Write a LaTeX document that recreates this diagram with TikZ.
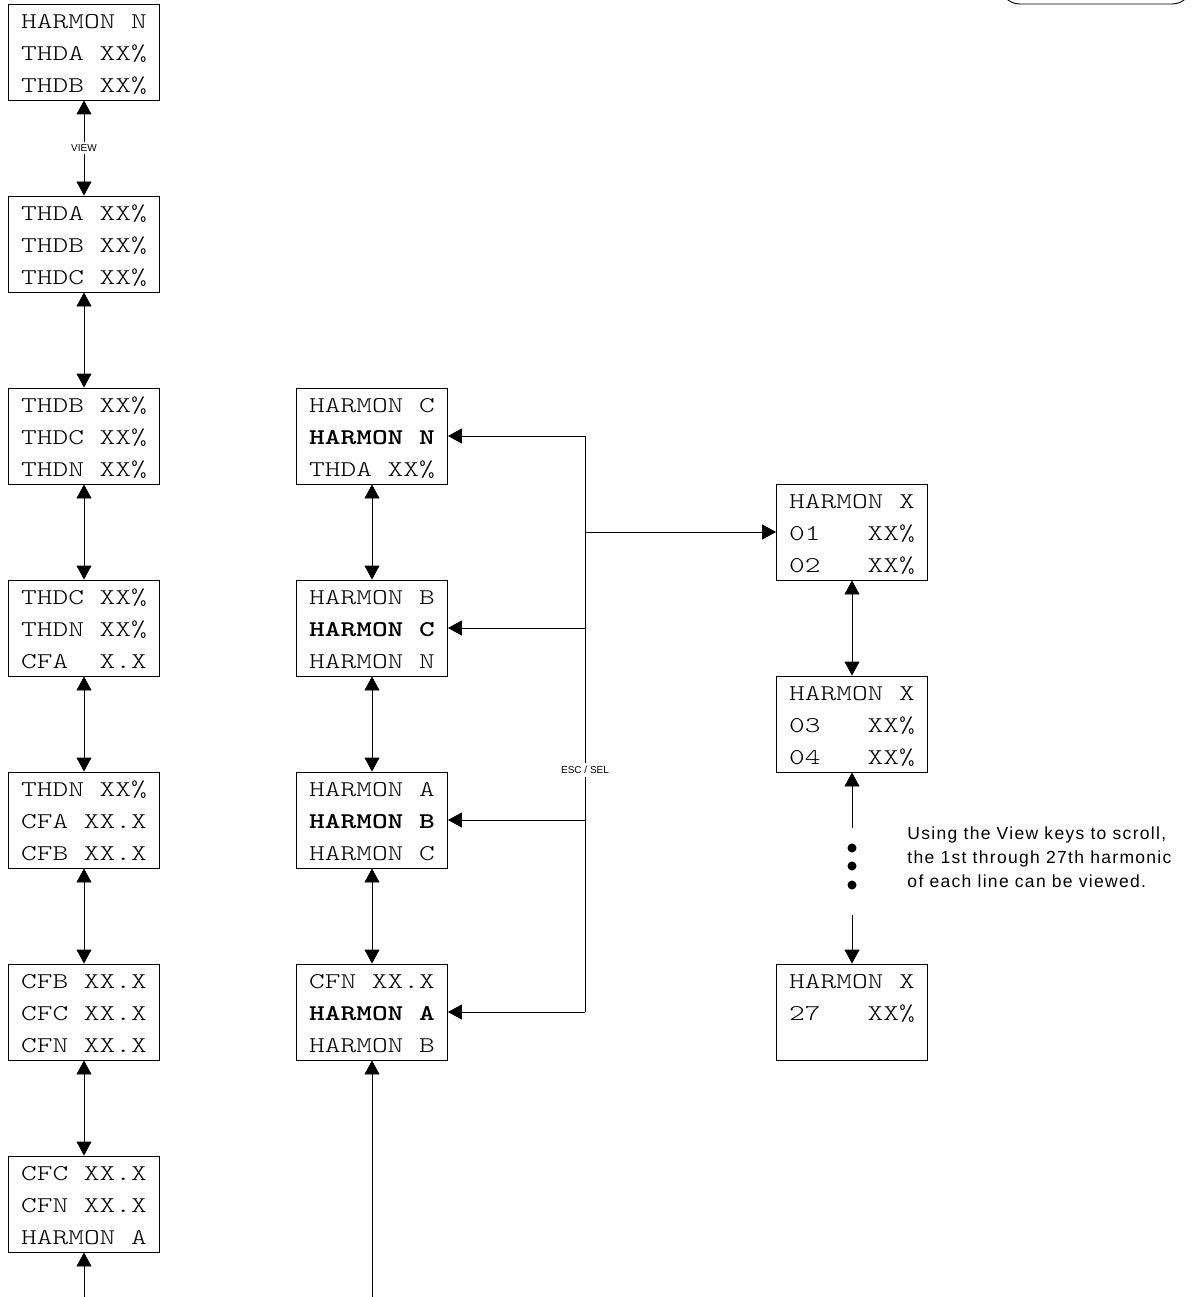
\documentclass[tikz,border=0pt]{standalone}
\usepackage{fontspec}
\setmainfont{Liberation Sans}
\newfontfamily\lcdfont{lmmonolt10-regular.otf}[FakeStretch=1.33, BoldFont=lmmonolt10-bold.otf]
\newfontfamily\notefont{Liberation Sans}[LetterSpace=7.5]
\usetikzlibrary{arrows.meta,positioning,calc}

\tikzset{
  screen/.style={draw, minimum width=151pt, minimum height=96pt, inner sep=0pt,
    align=left, font=\lcdfont\fontsize{22.5}{32}\selectfont},
  keylabel/.style={fill=white, inner sep=3pt, font=\fontsize{10}{12}\selectfont},
  >={Triangle[length=14pt,width=15pt]}
}
\newcommand{\rows}[3]{\rule{0pt}{24.4pt}#1\\#2\\\rule[-7.6pt]{0pt}{7.6pt}#3}

\begin{document}
\begin{tikzpicture}[x=1pt, y=-1pt, line width=0.9pt]
    \useasboundingbox (0,0) rectangle (1194,1297);

    % Corner of the box above (cut by the page)
    \begin{scope}
        \clip (0,0) rectangle (1194,1297);
        \draw[rounded corners=20pt] (1000,-60) rectangle (1192,4);
    \end{scope}

    % Left column: view list
    \node[screen] (l1) at (84,52)   {\rows{HARMON N}{THDA XX\%}{THDB XX\%}};
    \node[screen] (l2) at (84,244)  {\rows{THDA XX\%}{THDB XX\%}{THDC XX\%}};
    \node[screen] (l3) at (84,436)  {\rows{THDB XX\%}{THDC XX\%}{THDN XX\%}};
    \node[screen] (l4) at (84,628)  {\rows{THDC XX\%}{THDN XX\%}{CFA\ \ X.X}};
    \node[screen] (l5) at (84,820)  {\rows{THDN XX\%}{CFA XX.X}{CFB XX.X}};
    \node[screen] (l6) at (84,1012) {\rows{CFB XX.X}{CFC XX.X}{CFN XX.X}};
    \node[screen] (l7) at (84,1204) {\rows{CFC XX.X}{CFN XX.X}{HARMON A}};
    \coordinate (lin) at (84,1297);

    \draw[<->] (l1) -- (l2) node[midway, keylabel] {VIEW};
    \foreach \a/\b in {l2/l3, l3/l4, l4/l5, l5/l6, l6/l7}
        \draw[<->] (\a) -- (\b);
    \draw[->] (lin) -- (l7);

    % Middle column: selected harmonic line
    \node[screen] (m1) at (372,436)  {\rows{HARMON C}{\textbf{HARMON N}}{THDA XX\%}};
    \node[screen] (m2) at (372,628)  {\rows{HARMON B}{\textbf{HARMON C}}{HARMON N}};
    \node[screen] (m3) at (372,820)  {\rows{HARMON A}{\textbf{HARMON B}}{HARMON C}};
    \node[screen] (m4) at (372,1012) {\rows{CFN XX.X}{\textbf{HARMON A}}{HARMON B}};
    \coordinate (min) at (372,1297);

    \foreach \a/\b in {m1/m2, m2/m3, m3/m4}
        \draw[<->] (\a) -- (\b);
    \draw[->] (min) -- (m4);

    % Right column: harmonics of one line
    \node[screen] (r1) at (852,532)  {\rows{HARMON X}{01\ \ \ XX\%}{02\ \ \ XX\%}};
    \node[screen] (r2) at (852,724)  {\rows{HARMON X}{03\ \ \ XX\%}{04\ \ \ XX\%}};
    \node[screen] (r3) at (852,1012) {\rows{HARMON X}{27\ \ \ XX\%}{}};
    \coordinate (dtop) at (852,828);
    \coordinate (dbot) at (852,915);

    \draw[<->] (r1) -- (r2);
    \draw[->] (dtop) -- (r2);
    \draw[->] (dbot) -- (r3);
    \foreach \y in {848,866,885}
        \fill (852,\y) circle (4.5pt);

    % ESC / SEL bus
    \coordinate (bus) at (585,0);
    \draw (bus |- m1.east) -- (bus |- m4.east) node[pos=0.58, keylabel] {ESC / SEL};
    \foreach \b in {m1,m2,m3,m4}
        \draw[->] (bus |- \b.east) -- (\b.east);
    \draw[->] (bus |- r1.west) -- (r1.west);

    % Note
    \node[anchor=north west, inner sep=0pt, align=left,
          font=\notefont\fontsize{17.5}{24}\selectfont] (note) at (907,826)
        {Using the View keys to scroll,\\the 1st through 27th harmonic\\of each line can be viewed.};
\end{tikzpicture}
\end{document}
